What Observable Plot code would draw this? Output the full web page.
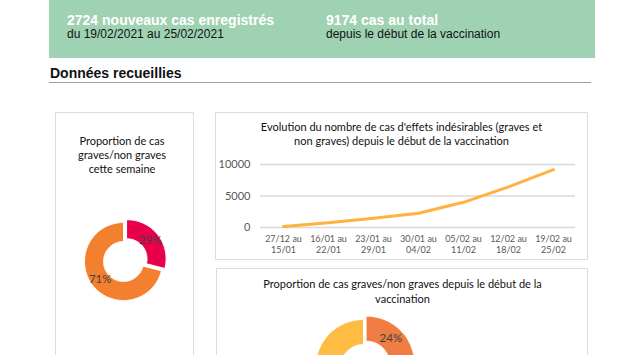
<!DOCTYPE html>
<html><head><meta charset="utf-8">
<script src="https://cdn.jsdelivr.net/npm/d3@7"></script>
<script src="https://cdn.jsdelivr.net/npm/@observablehq/plot@0.6"></script>
<style>
body{margin:0;background:#fff;}
#page{position:relative;width:636px;height:355px;overflow:hidden;font-family:"Liberation Sans",Arial,sans-serif;}
.abs{position:absolute;white-space:nowrap;}
.panel{position:absolute;border:1.5px solid #dedede;box-sizing:border-box;}
.ptitle{position:absolute;font-family:Lato,sans-serif;font-size:11px;color:#111;text-align:center;line-height:14px;}
#page svg{position:absolute;overflow:visible;}
</style></head><body>
<div id="page">
  <div class="abs" style="left:49px;top:0;width:546px;height:58px;background:#9fd1b3;"></div>
  <div class="abs" style="left:67px;top:13px;font-size:14px;line-height:14px;font-weight:bold;color:#fff;">2724 nouveaux cas enregistrés</div>
  <div class="abs" style="left:67px;top:28px;font-size:12px;line-height:12px;color:#111;">du 19/02/2021 au 25/02/2021</div>
  <div class="abs" style="left:326px;top:13px;font-size:14px;line-height:14px;font-weight:bold;color:#fff;">9174 cas au total</div>
  <div class="abs" style="left:326px;top:28px;font-size:12px;line-height:12px;color:#111;">depuis le début de la vaccination</div>
  <div class="abs" style="left:50px;top:66px;font-size:14px;line-height:14px;font-weight:bold;color:#111;">Données recueillies</div>
  <div class="abs" style="left:49px;top:82px;width:542px;height:0;border-top:1.5px solid #a0a0a0;"></div>

  <div class="panel" style="left:55px;top:112px;width:139px;height:300px;"></div>
  <div class="panel" style="left:215px;top:112px;width:373px;height:148px;"></div>
  <div class="panel" style="left:216px;top:268px;width:372px;height:200px;"></div>

  <div class="ptitle" style="left:52px;top:134px;width:140px;">Proportion de cas<br>graves/non graves<br>cette semaine</div>
  <div class="ptitle" style="left:215px;top:120px;width:373px;">Evolution du nombre de cas d'effets indésirables (graves et<br>non graves) depuis le début de la vaccination</div>
  <div class="ptitle" style="left:216px;top:276px;width:373px;line-height:15px;">Proportion de cas graves/non graves depuis le début de la<br>vaccination</div>
</div>
<script>
// ---- data ----
const weeks = ["27/12 au\n15/01","16/01 au\n22/01","23/01 au\n29/01","30/01 au\n04/02","05/02 au\n11/02","12/02 au\n18/02","19/02 au\n25/02"];
const cumulativeCases = [150, 750, 1450, 2250, 4000, 6450, 9174];
const yTicks = [0, 5000, 10000];

const severityKeys = ["graves", "non graves"];
const weekShares = [29, 71];
const totalShares = [24, 76];

const page = document.getElementById("page");

// ---- line chart ----
const lineData = weeks.map((w, i) => ({week: w, cases: cumulativeCases[i]}));
const lineChart = Plot.plot({
  width: 373, height: 108,
  marginLeft: 45, marginRight: 13, marginTop: 14, marginBottom: 31,
  style: {fontFamily: "Lato, sans-serif", color: "#595959", background: "transparent"},
  x: {type: "point", domain: weeks, padding: 0.5},
  y: {domain: [0, 10000]},
  marks: [
    Plot.gridY(yTicks, {stroke: "#d9d9d9", strokeOpacity: 1, strokeWidth: 1.3}),
    Plot.axisY(yTicks, {tickSize: 0, tickPadding: 10, tickFormat: d => String(d), fontSize: 11, label: null}),
    Plot.axisX({tickSize: 0, tickPadding: 7.5, fontSize: 9, lineHeight: 1.15, label: null}),
    Plot.line(lineData, {x: "week", y: "cases", stroke: "#ffb23e", strokeWidth: 3, strokeLinecap: "round"})
  ]
});
lineChart.style.left = "215px"; lineChart.style.top = "150px";
page.appendChild(lineChart);

// ---- donuts ----
function donut(shares, colors, R, r, explode, w, h) {
  const arcs = d3.pie().sort(null)(shares);
  const total = d3.sum(shares);
  const pts = [], labels = [];
  arcs.forEach((a, i) => {
    const key = severityKeys[i];
    const off = i === 0 ? explode : 0;
    const mid = (a.startAngle + a.endAngle) / 2;
    const ox = off * Math.sin(mid), oy = off * Math.cos(mid);
    const n = Math.max(2, Math.ceil((a.endAngle - a.startAngle) / 0.02));
    for (let j = 0; j <= n; j++) {
      const t = a.startAngle + (a.endAngle - a.startAngle) * j / n;
      pts.push({key, x: ox + R * Math.sin(t), y: oy + R * Math.cos(t)});
    }
    for (let j = n; j >= 0; j--) {
      const t = a.startAngle + (a.endAngle - a.startAngle) * j / n;
      pts.push({key, x: ox + r * Math.sin(t), y: oy + r * Math.cos(t)});
    }
    const rm = (R + r) / 2;
    labels.push({x: ox + rm * Math.sin(mid), y: oy + rm * Math.cos(mid), text: Math.round(shares[i] / total * 100) + "%"});
  });
  return Plot.plot({
    width: w, height: h, margin: 0,
    style: {fontFamily: "Lato, sans-serif", background: "transparent"},
    x: {domain: [-w / 2, w / 2], axis: null},
    y: {domain: [-h / 2, h / 2], axis: null},
    color: {domain: severityKeys, range: colors},
    marks: [
      Plot.line(pts, {x: "x", y: "y", z: "key", fill: "key", stroke: "white", strokeWidth: 1}),
      Plot.text(labels, {x: "x", y: "y", text: "text", fill: "#404040", fontSize: 11.5})
    ]
  });
}

const d1 = donut(weekShares, ["#e8004c", "#f2802f"], 39, 20, 4.5, 120, 100);
d1.style.left = (123 - 60) + "px"; d1.style.top = (261 - 50) + "px";
page.appendChild(d1);

const d2 = donut(totalShares, ["#ef7d43", "#ffbc45"], 48, 23, 4.5, 140, 110);
d2.style.left = (363 - 70) + "px"; d2.style.top = (367 - 55) + "px";
page.appendChild(d2);
</script>
</body></html>
